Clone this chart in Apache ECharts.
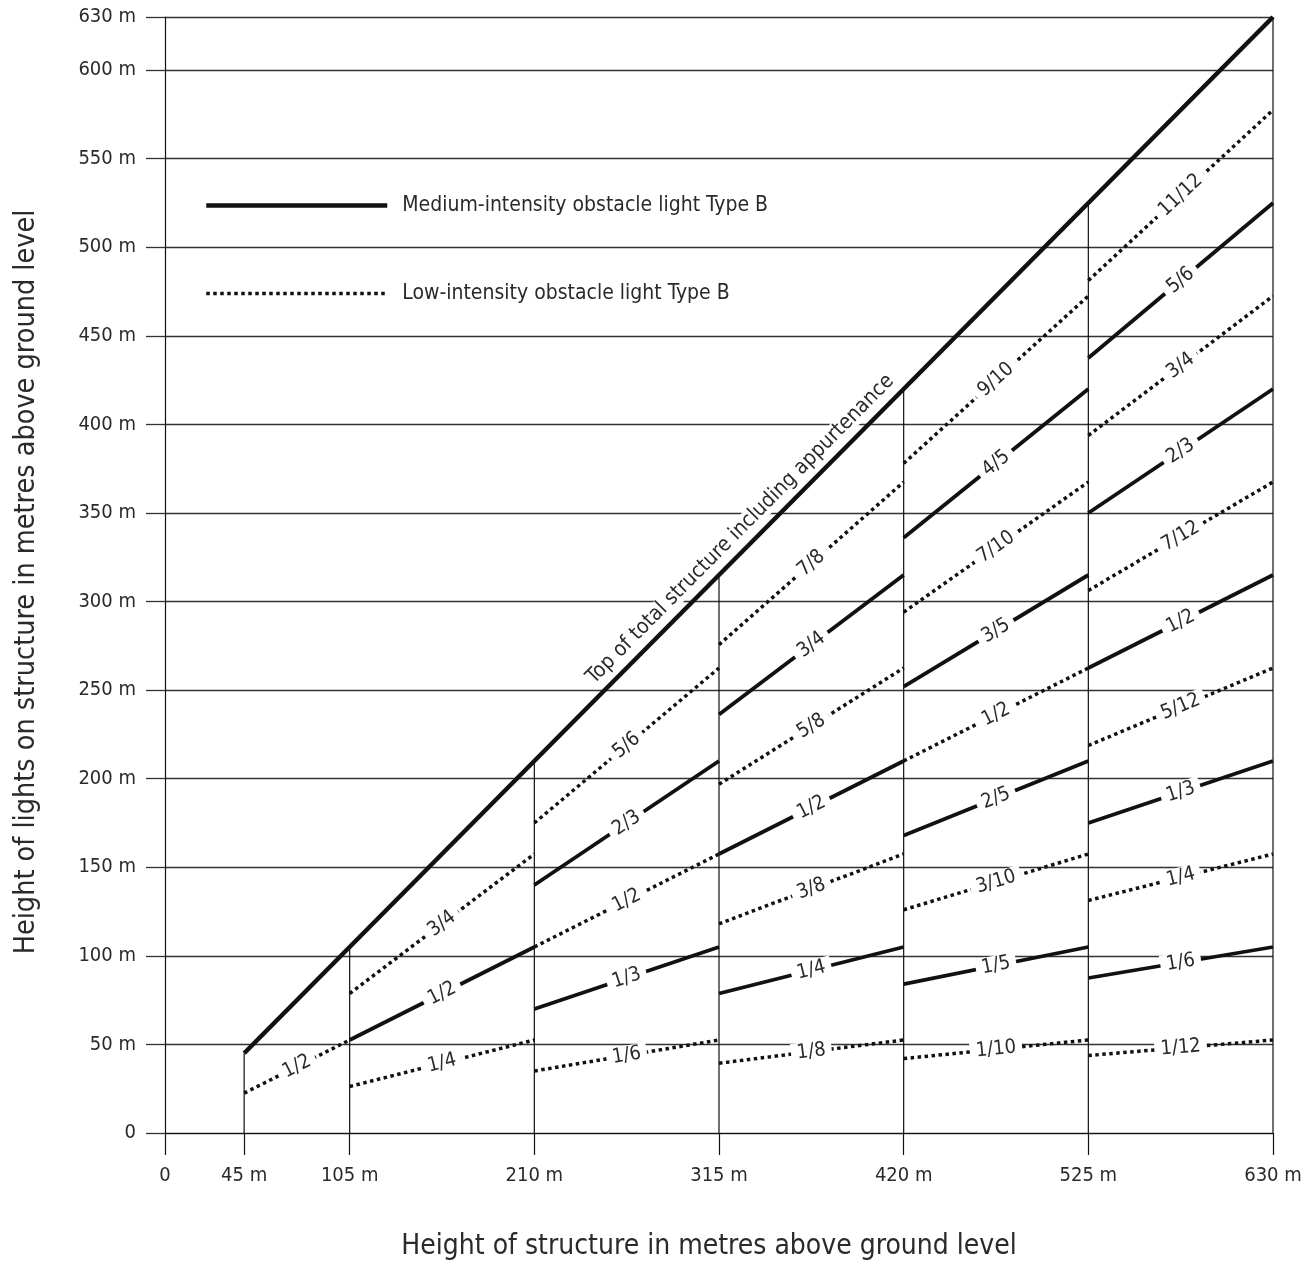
<!DOCTYPE html>
<html><head><meta charset="utf-8">
<script src="https://cdn.jsdelivr.net/npm/echarts@6/dist/echarts.min.js"></script>
<style>html,body{margin:0;padding:0;background:#fff}#c{width:1315px;height:1266px}</style>
</head><body><div id="c"></div>
<script>
// ---------------- DATA ----------------
const xTickValues = [0, 45, 105, 210, 315, 420, 525, 630];
const yMin = 0, yMax = 630, yStep = 50;
const structureHeights = [45, 105, 210, 315, 420, 525, 630];
const topOfStructure = [[45, 45], [630, 630]];
// Medium-intensity (solid): [label, x0, y0, x1, y1]
const mediumSegments = [
  ['1/2', 105, 52.5, 210, 105],
  ['2/3', 210, 140, 315, 210],
  ['1/3', 210, 70, 315, 105],
  ['3/4', 315, 236.25, 420, 315],
  ['1/2', 315, 157.5, 420, 210],
  ['1/4', 315, 78.75, 420, 105],
  ['4/5', 420, 336, 525, 420],
  ['3/5', 420, 252, 525, 315],
  ['2/5', 420, 168, 525, 210],
  ['1/5', 420, 84, 525, 105],
  ['5/6', 525, 437.5, 630, 525],
  ['2/3', 525, 350, 630, 420],
  ['1/2', 525, 262.5, 630, 315],
  ['1/3', 525, 175, 630, 210],
  ['1/6', 525, 87.5, 630, 105]
];
// Low-intensity (dotted): [label, x0, y0, x1, y1]
const lowSegments = [
  ['1/2', 45, 22.5, 105, 52.5],
  ['3/4', 105, 78.75, 210, 157.5],
  ['1/4', 105, 26.25, 210, 52.5],
  ['5/6', 210, 175, 315, 262.5],
  ['1/2', 210, 105, 315, 157.5],
  ['1/6', 210, 35, 315, 52.5],
  ['7/8', 315, 275.625, 420, 367.5],
  ['5/8', 315, 196.875, 420, 262.5],
  ['3/8', 315, 118.125, 420, 157.5],
  ['1/8', 315, 39.375, 420, 52.5],
  ['9/10', 420, 378, 525, 472.5],
  ['7/10', 420, 294, 525, 367.5],
  ['1/2', 420, 210, 525, 262.5],
  ['3/10', 420, 126, 525, 157.5],
  ['1/10', 420, 42, 525, 52.5],
  ['11/12', 525, 481.25, 630, 577.5],
  ['3/4', 525, 393.75, 630, 472.5],
  ['7/12', 525, 306.25, 630, 367.5],
  ['5/12', 525, 218.75, 630, 262.5],
  ['1/4', 525, 131.25, 630, 157.5],
  ['1/12', 525, 43.75, 630, 52.5]
];
const mediumName = 'Medium-intensity obstacle light Type B';
const lowName = 'Low-intensity obstacle light Type B';
const topLabelText = 'Top of total structure including appurtenance';
const xTitle = 'Height of structure in metres above ground level';
const yTitle = 'Height of lights on structure in metres above ground level';

// ---------------- CHART ----------------
const FONT = '"Liberation Sans Narrow", "Arial Narrow", "DejaVu Sans Condensed", sans-serif';
const INK = '#111';
const TXT = '#2a2a2a';
const SOLID_W = 3.8, DOT_W = 3.5, DOT_DASH = [3.5, 3.5];
const chart = echarts.init(document.getElementById('c'), null, {renderer: 'canvas'});

function fmt(v) { return v === 0 ? '0' : v + ' m'; }

const series = [];
structureHeights.forEach(h => {
  series.push({type: 'line', name: 'v' + h, data: [[h, 0], [h, h]], symbol: 'none', silent: true,
    lineStyle: {color: INK, width: 1.2}, z: 1});
});
series.push({type: 'line', name: 'top', data: topOfStructure, symbol: 'none', silent: true,
  lineStyle: {color: INK, width: 4.5}, z: 3});
mediumSegments.forEach(s => {
  series.push({type: 'line', name: mediumName, data: [[s[1], s[2]], [s[3], s[4]]], symbol: 'none', silent: true,
    lineStyle: {color: INK, width: SOLID_W, type: 'solid'}, z: 3});
});
lowSegments.forEach(s => {
  series.push({type: 'line', name: lowName, data: [[s[1], s[2]], [s[3], s[4]]], symbol: 'none', silent: true,
    lineStyle: {color: INK, width: DOT_W, type: DOT_DASH}, z: 3});
});

const baseOption = {
  animation: false,
  backgroundColor: '#fff',
  grid: {left: 165, right: 42, top: 17, bottom: 133, containLabel: false, outerBoundsMode: 'none'},
  legend: {
    data: [
      {name: mediumName, itemStyle: {opacity: 0}, lineStyle: {color: INK, width: 4.5, type: 'solid'}},
      {name: lowName, itemStyle: {opacity: 0}, lineStyle: {color: INK, width: DOT_W, type: DOT_DASH}}
    ],
    orient: 'vertical', left: 204, top: 195, padding: 0,
    itemWidth: 181, itemHeight: 24, itemGap: 67,
    selectedMode: false,
    textStyle: {fontFamily: FONT, fontSize: 21, color: TXT, padding: [0, 0, 0, 10]}
  },
  xAxis: {
    type: 'value', min: 0, max: 630,
    name: xTitle, nameLocation: 'middle', nameGap: 100,
    nameTextStyle: {fontFamily: FONT, fontSize: 28, color: TXT, padding: [0, 20, 0, 0]},
    axisLine: {show: true, lineStyle: {color: INK, width: 1.2}},
    axisTick: {show: true, customValues: xTickValues, length: 22, lineStyle: {color: INK, width: 1.2}},
    axisLabel: {customValues: xTickValues, formatter: fmt, margin: 33, fontFamily: FONT, fontSize: 20, color: TXT},
    splitLine: {show: false}
  },
  yAxis: {
    type: 'value', min: yMin, max: yMax, interval: yStep,
    name: yTitle, nameLocation: 'middle', nameGap: 124, nameRotate: 90,
    nameTextStyle: {fontFamily: FONT, fontSize: 28.5, color: TXT, padding: [0, 14, 0, 0]},
    axisLine: {show: true, lineStyle: {color: INK, width: 1.2}},
    axisTick: {show: true, length: 19, lineStyle: {color: '#333', width: 1.3}},
    axisLabel: {formatter: fmt, margin: 29, fontFamily: FONT, fontSize: 20, color: TXT},
    splitLine: {show: true, lineStyle: {color: '#333', width: 1.3}}
  },
  series: series
};
chart.setOption(baseOption);

function angleOf(x0, y0, x1, y1) {
  const p0 = chart.convertToPixel({gridIndex: 0}, [x0, y0]);
  const p1 = chart.convertToPixel({gridIndex: 0}, [x1, y1]);
  return -Math.atan2(p1[1] - p0[1], p1[0] - p0[0]) * 180 / Math.PI;
}
const labelData = [];
mediumSegments.concat(lowSegments).forEach(s => {
  labelData.push({
    name: s[0],
    value: [(s[1] + s[3]) / 2, (s[2] + s[4]) / 2],
    label: {rotate: angleOf(s[1], s[2], s[3], s[4])}
  });
});
// label along top-of-structure line
const topAnchor = 334;
labelData.push({
  name: topLabelText,
  value: [topAnchor, topAnchor],
  label: {rotate: angleOf(45, 45, 630, 630), offset: [0, -17], fontSize: 21, padding: [0, 2]}
});

series.push({
  type: 'scatter', name: 'labels', data: labelData, symbolSize: 0, silent: true, z: 10,
  itemStyle: {opacity: 1},
  label: {show: true, position: 'inside', formatter: '{b}', fontFamily: FONT, fontSize: 20, color: TXT,
    opacity: 1, textBorderWidth: 0, textBorderColor: 'transparent', textShadowBlur: 0,
    backgroundColor: '#fff', padding: [0, 6]}
});
chart.setOption({series: series});
</script>
</body></html>
